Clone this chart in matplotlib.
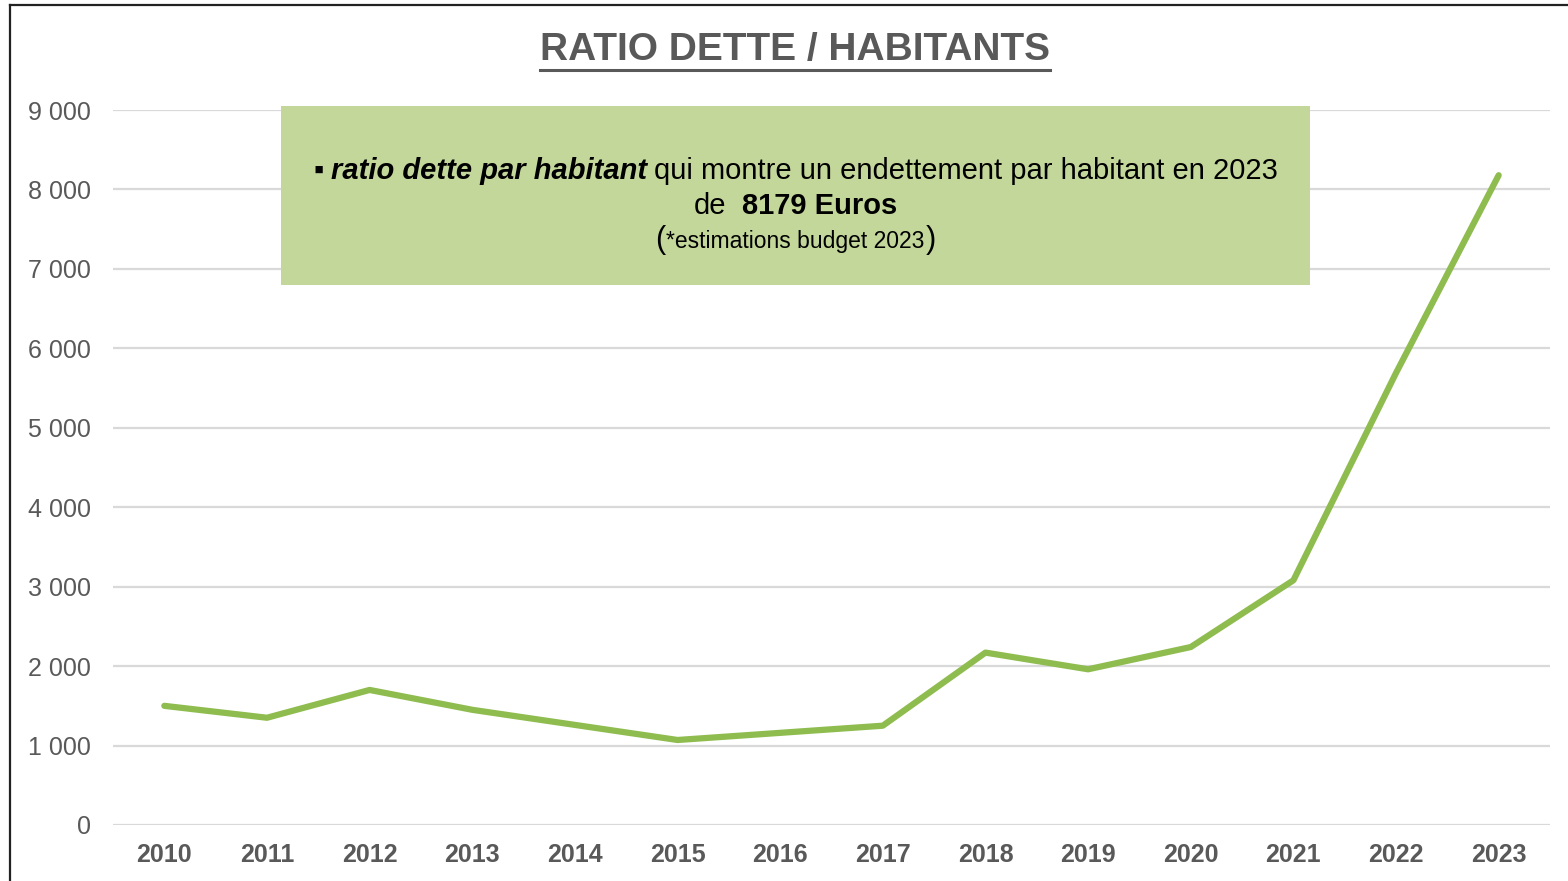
import matplotlib
matplotlib.use("Agg")
import matplotlib.pyplot as plt
from matplotlib.patches import Rectangle
from matplotlib.lines import Line2D
from matplotlib.ticker import FuncFormatter

years = ["2010", "2011", "2012", "2013", "2014", "2015", "2016",
         "2017", "2018", "2019", "2020", "2021", "2022", "2023"]
ratio = [1500, 1350, 1700, 1450, 1260, 1070, 1160,
         1250, 2170, 1960, 2240, 3080, 5690, 8179]

W, H = 1568, 881
GREY = "#595959"
GREEN = "#8FBC4F"
BOX = "#C4D79B"
FONT = ["Liberation Sans", "DejaVu Sans"]

plt.rcParams["font.family"] = FONT

fig = plt.figure(figsize=(W / 100, H / 100), dpi=100)


def fx(px):
    return px / W


def fy(py):
    return 1 - py / H


ax = fig.add_axes([fx(113), fy(825), fx(1550 - 113), (825 - 110) / H])
ax.plot(range(len(years)), ratio, color=GREEN, lw=4.5, solid_capstyle="round",
        solid_joinstyle="round", zorder=3)
ax.set_xlim(-0.5, len(years) - 0.5)
ax.set_ylim(0, 9000)
ax.set_yticks(range(0, 9001, 1000))
ax.yaxis.set_major_formatter(FuncFormatter(lambda v, p: f"{v:,.0f}".replace(",", " ")))
ax.set_xticks(range(len(years)))
ax.set_xticklabels(years, fontweight="bold")
ax.tick_params(axis="both", length=0, labelsize=18, labelcolor=GREY)
ax.tick_params(axis="y", pad=16)
ax.tick_params(axis="x", pad=13)
ax.yaxis.grid(True, color="#D9D9D9", lw=1.6)
ax.set_axisbelow(True)
for s in ax.spines.values():
    s.set_visible(False)

# frame around the slide
fig.add_artist(Line2D([fx(10), fx(10)], [fy(5), 0], color="#222222", lw=1.6))
fig.add_artist(Line2D([fx(10), 1], [fy(5), fy(5)], color="#222222", lw=1.6))

# title, underlined
title = fig.text(fx(795), fy(50), "RATIO DETTE / HABITANTS", ha="center", va="center",
                 fontsize=28, fontweight="bold", color=GREY)
r = fig.canvas.get_renderer()
bb = title.get_window_extent(r)
fig.add_artist(Line2D([bb.x0 / W, bb.x1 / W], [fy(70), fy(70)], color=GREY, lw=2.2))

# green comment box
fig.add_artist(Rectangle((fx(281), fy(285)), fx(1310 - 281), (285 - 106) / H,
                         facecolor=BOX, edgecolor="none", zorder=4))


def rich_line(parts, baseline, center=795.5, gap=7):
    items = []
    for s, kw in parts:
        t = fig.text(0, fy(baseline), s, va="baseline", ha="left", zorder=5, color="black", **kw)
        items.append(t)
    widths = [t.get_window_extent(r).width for t in items]
    total = sum(widths) + gap * (len(items) - 1)
    x = center - total / 2
    for t, w in zip(items, widths):
        t.set_x(fx(x))
        x += w + gap


rich_line([("▪", dict(fontsize=21, fontweight="bold")),
           ("ratio dette par habitant", dict(fontsize=21, fontweight="bold", style="italic")),
           ("qui montre un endettement par habitant en 2023", dict(fontsize=21))],
          baseline=179)
rich_line([("de", dict(fontsize=21)),
           ("8179 Euros", dict(fontsize=21, fontweight="bold"))],
          baseline=214, gap=16)
rich_line([("(", dict(fontsize=22)),
           ("*estimations budget 2023", dict(fontsize=16.5)),
           (")", dict(fontsize=22))],
          baseline=248, gap=1)

fig.savefig("out.png", dpi=100)
